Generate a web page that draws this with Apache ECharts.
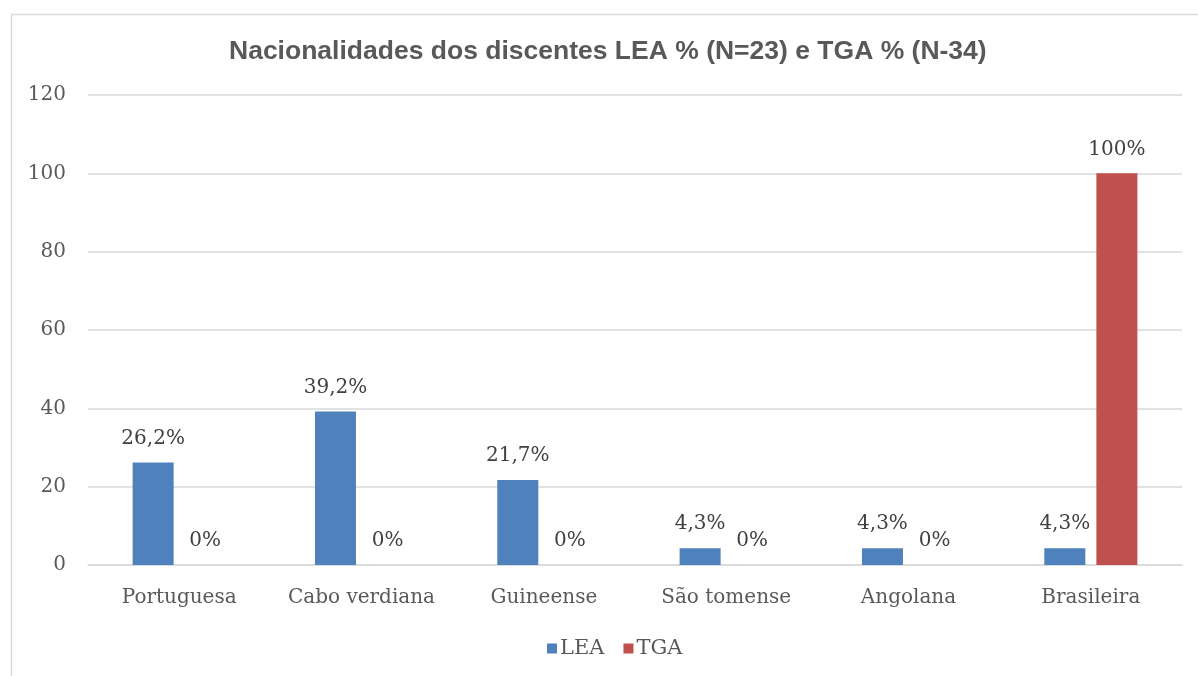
<!DOCTYPE html>
<html><head><meta charset="utf-8">
<script src="https://cdn.jsdelivr.net/npm/echarts@6/dist/echarts.min.js"></script>
<style>html,body{margin:0;padding:0;background:#fff}#c{width:1198px;height:676px}</style>
</head><body><div id="c"></div>
<script>
var categories = ['Portuguesa', 'Cabo verdiana', 'Guineense', 'São tomense', 'Angolana', 'Brasileira'];
var leaValues = [26.2, 39.2, 21.7, 4.3, 4.3, 4.3];
var tgaValues = [0, 0, 0, 0, 0, 100];
var seriesNames = ['LEA', 'TGA'];
var titleText = 'Nacionalidades dos discentes LEA % (N=23) e TGA % (N-34)';

var serif = '"DejaVu Serif", serif';
function fmt(p) { return String(p.value).replace('.', ',') + '%'; }

var chart = echarts.init(document.getElementById('c'));
chart.setOption({
  animation: false,
  backgroundColor: '#fff',
  graphic: [{
    type: 'rect', left: 9, top: 12, silent: true,
    shape: { width: 1200, height: 663 },
    style: { fill: 'none', stroke: '#d9d9d9', lineWidth: 1.5 }
  }],
  title: {
    text: titleText, left: 224, top: 33,
    textStyle: { fontFamily: '"Liberation Sans", Arial, sans-serif', fontWeight: 'bold', fontSize: 26.5, color: '#595959' }
  },
  legend: {
    data: seriesNames, bottom: 12, left: 542,
    itemWidth: 10, itemHeight: 10, itemGap: 19,
    icon: 'rect',
    textStyle: { fontFamily: serif, fontSize: 21, color: '#595959', padding: [0, 0, 0, -2] }
  },
  grid: { left: 88, right: 16, top: 95, bottom: 111, containLabel: false },
  xAxis: {
    type: 'category', data: categories,
    axisLine: { lineStyle: { color: '#d9d9d9', width: 1.5 } },
    axisTick: { show: false },
    axisLabel: { interval: 0, fontFamily: serif, fontSize: 20, color: '#595959', margin: 23 }
  },
  yAxis: {
    type: 'value', min: 0, max: 120, interval: 20,
    axisLine: { show: false }, axisTick: { show: false },
    splitLine: { lineStyle: { color: '#d9d9d9', width: 1.5 } },
    axisLabel: { fontFamily: serif, fontSize: 20, color: '#595959', margin: 22 }
  },
  series: [
    {
      name: seriesNames[0], type: 'bar', data: leaValues,
      barWidth: 41, barGap: '27%',
      itemStyle: { color: '#4f81bd' },
      label: { show: true, position: 'top', distance: 14, formatter: fmt, fontFamily: serif, fontSize: 20, color: '#404040' }
    },
    {
      name: seriesNames[1], type: 'bar', data: tgaValues,
      barWidth: 41,
      itemStyle: { color: '#c0504d' },
      label: { show: true, position: 'top', distance: 14, formatter: fmt, fontFamily: serif, fontSize: 20, color: '#404040' }
    }
  ]
});
</script></body></html>
